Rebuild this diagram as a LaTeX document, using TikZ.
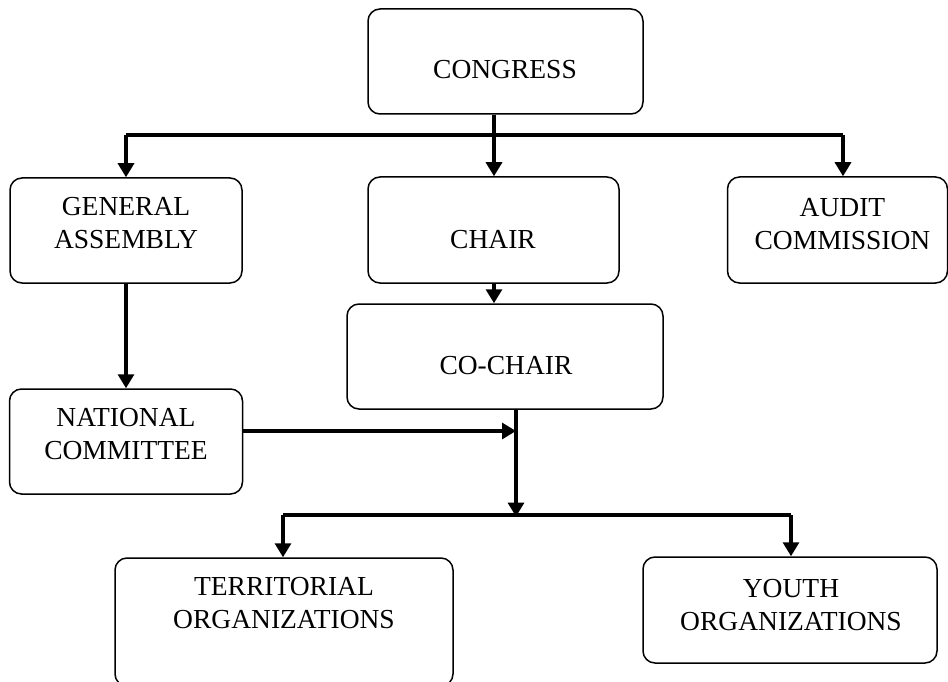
\documentclass[tikz,border=0pt]{standalone}
\usepackage{fontspec}
\setmainfont{Liberation Serif}
\usetikzlibrary{arrows.meta}
\begin{document}
\begin{tikzpicture}[x=1pt,y=-1pt,
  orgbox/.style={draw=black,line width=1.5pt,rounded corners=12pt,inner sep=0pt},
  lbl/.style={font=\fontsize{27.5}{33}\selectfont,align=center,inner sep=0pt},
  conn/.style={line width=3.2pt},
  arr/.style={line width=3.2pt,-{Triangle[width=16pt,length=14pt]}}]
\useasboundingbox (0,0) rectangle (948,682);
% boxes
\node[orgbox,minimum width=275pt,minimum height=105pt] (congress) at (505.5,61.5) {};
\node[orgbox,minimum width=232pt,minimum height=105pt] (ga) at (126,230.5) {};
\node[orgbox,minimum width=251pt,minimum height=106pt] (chair) at (493.5,230) {};
\node[orgbox,minimum width=220pt,minimum height=106pt] (audit) at (837.5,230) {};
\node[orgbox,minimum width=316pt,minimum height=105pt] (cochair) at (505,356.5) {};
\node[orgbox,minimum width=233pt,minimum height=105pt] (nc) at (126,441.5) {};
\node[orgbox,minimum width=338pt,minimum height=128pt] (terr) at (284,622) {};
\node[orgbox,minimum width=294pt,minimum height=106pt] (youth) at (790,610) {};
% labels
\node[lbl] (tcongress) at (505,70) {CONGRESS};
\node[lbl] (tga) at (126,223.5) {GENERAL\\ASSEMBLY};
\node[lbl] (tchair) at (493,240) {CHAIR};
\node[lbl] (taudit) at (842.5,224.5) {AUDIT\\COMMISSION};
\node[lbl] (tcochair) at (506,366) {CO-CHAIR};
\node[lbl] (tnc) at (126,434) {NATIONAL\\COMMITTEE};
\node[lbl] (tterr) at (284,603) {TERRITORIAL\\ORGANIZATIONS};
\node[lbl] (tyouth) at (791,605) {YOUTH\\ORGANIZATIONS};
% junctions
\coordinate (j1) at (494,135);
\coordinate (jl) at (126,135);
\coordinate (jr) at (843,135);
\coordinate (j2) at (516,515);
\coordinate (j3) at (516,431);
\coordinate (kl) at (283,515);
\coordinate (kr) at (791,515);
% connectors
\draw[arr] (congress.south -| j1) -- (chair.north -| j1);
\draw[conn] (jl) -- (jr);
\draw[arr] (jl) -- (ga.north -| jl);
\draw[arr] (jr) -- (audit.north -| jr);
\draw[arr] (chair.south -| j1) -- (cochair.north -| j1);
\draw[arr] (ga.south) -- (nc.north);
\draw[arr] (nc.east |- j3) -- (j3);
\draw[arr] (cochair.south -| j2) -- ([yshift=-1.6pt]j2);
\draw[conn] (kl) -- (kr);
\draw[arr] (kl) -- (terr.north -| kl);
\draw[arr] (kr) -- (youth.north -| kr);
\end{tikzpicture}
\end{document}
